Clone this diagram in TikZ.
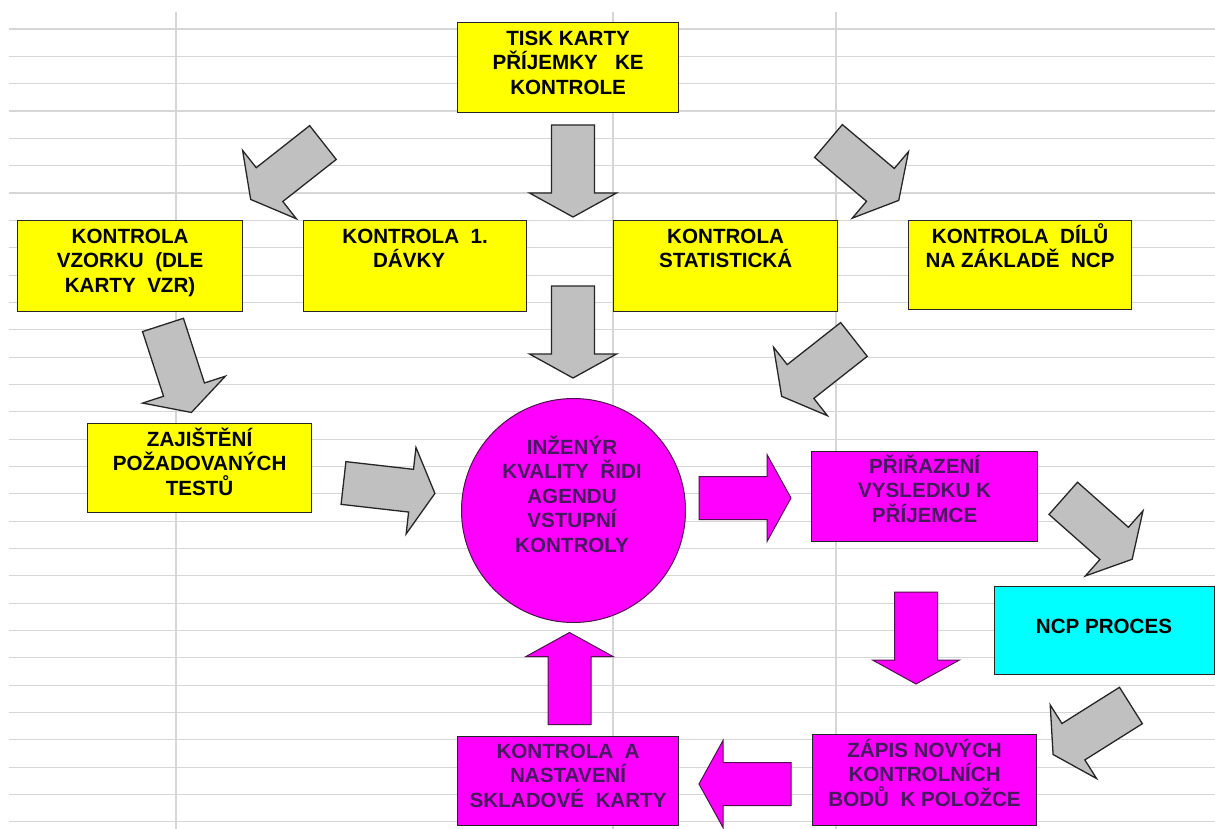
\documentclass[tikz,border=0pt]{standalone}
\usepackage{fontspec}
\setmainfont{Liberation Sans}
\definecolor{gridline}{HTML}{D6D6D6}
\definecolor{outline}{HTML}{262626}
\definecolor{arrowgray}{HTML}{C0C0C0}
\definecolor{boxyellow}{RGB}{255,255,0}
\definecolor{boxmagenta}{RGB}{255,0,255}
\definecolor{boxcyan}{RGB}{0,255,255}
\definecolor{mtext}{HTML}{46185F}
\definecolor{moutline}{HTML}{50104F}
% fixed height for the first line of a label
\newcommand\firstline{\rule{0pt}{20.6pt}}
% block arrow: centre x, centre y, direction angle, style
\newcommand\blockarrow[4]{%
  \begin{scope}[shift={(#1,#2)},rotate=#3]
    \draw[#4] (-46,-21.5) -- (22,-21.5) -- (22,-43.5) -- (46,0)
      -- (22,43.5) -- (22,21.5) -- (-46,21.5) -- cycle;
  \end{scope}}
\begin{document}
\begin{tikzpicture}[x=1pt,y=-1pt,
  grid/.style={draw=gridline,line width=1.1pt},
  box/.style={draw=outline,line width=1.2pt,inner sep=0pt,anchor=north west},
  ybox/.style={box,fill=boxyellow},
  mbox/.style={box,fill=boxmagenta},
  cbox/.style={box,fill=boxcyan},
  lbl/.style={inner sep=0pt,align=center,anchor=north,
    font=\bfseries\fontsize{20.6}{24.5}\selectfont},
  mlbl/.style={lbl,text=mtext},
  grayarrow/.style={fill=arrowgray,draw=outline,line width=1.3pt,line join=miter},
  magarrow/.style={fill=boxmagenta,draw=moutline,line width=1pt,line join=miter}
]
\useasboundingbox (0,0) rectangle (1215,829);
\fill[white] (0,0) rectangle (1215,829);

% spreadsheet grid
\foreach \k in {0,...,29}
  \draw[grid] (9,{29+27.34*\k}) -- (1215,{29+27.34*\k});
\foreach \x in {176,613,836}
  \draw[grid] (\x,12) -- (\x,829);

% boxes
\node[ybox,minimum width=221pt,minimum height=90pt] (tisk) at (457,22) {};
\node[ybox,minimum width=225pt,minimum height=91pt] (vzorek) at (17,220) {};
\node[ybox,minimum width=223pt,minimum height=91pt] (davka) at (303,220) {};
\node[ybox,minimum width=224pt,minimum height=91pt] (stat) at (613,220) {};
\node[ybox,minimum width=223pt,minimum height=89pt] (dily) at (908,220) {};
\node[ybox,minimum width=224pt,minimum height=89pt] (testy) at (87,423) {};
\node[mbox,minimum width=226pt,minimum height=90pt] (prirazeni) at (811,451) {};
\node[cbox,minimum width=220pt,minimum height=88pt] (ncp) at (994,586) {};
\node[mbox,minimum width=224pt,minimum height=91pt] (zapis) at (812,734) {};
\node[mbox,minimum width=221pt,minimum height=89pt] (nastaveni) at (457,736) {};
\node[circle,draw=moutline,line width=1pt,fill=boxmagenta,minimum size=224pt,inner sep=0pt]
  (inzenyr) at (573.5,510.5) {};

% texts
\node[lbl] (tiskT) at ([yshift=-2.4pt]tisk.north) {\firstline TISK KARTY\\PŘÍJEMKY~~ KE\\KONTROLE};
\node[lbl] (vzorekT) at ([yshift=-2.4pt]vzorek.north) {\firstline KONTROLA\\VZORKU~ (DLE\\KARTY~ VZR)};
\node[lbl] (davkaT) at ([yshift=-2.4pt]davka.north) {\firstline KONTROLA~ 1.\\DÁVKY\hspace*{12pt}};
\node[lbl] (statT) at ([yshift=-2.4pt]stat.north) {\firstline KONTROLA\\STATISTICKÁ};
\node[lbl] (dilyT) at ([yshift=-2.4pt]dily.north) {\firstline KONTROLA~ DÍLŮ\\NA ZÁKLADĚ~ NCP};
\node[lbl] (testyT) at ([yshift=-2.4pt]testy.north) {\firstline ZAJIŠTĚNÍ\\POŽADOVANÝCH\\TESTŮ};
\node[mlbl] (inzenyrT) at (572,433.4) {\firstline INŽENÝR\\KVALITY~ ŘIDI\\AGENDU\\VSTUPNÍ\\KONTROLY};
\node[mlbl] (prirazeniT) at ([yshift=-1.4pt]prirazeni.north) {\firstline PŘIŘAZENÍ\\VYSLEDKU K\\PŘÍJEMCE};
\node[lbl] (ncpT) at (1104,612.4) {\firstline NCP PROCES};
\node[mlbl] (zapisT) at ([yshift=-2.4pt]zapis.north) {\firstline ZÁPIS NOVÝCH\\KONTROLNÍCH\\BODŮ~ K POLOŽCE};
\node[mlbl] (nastaveniT) at ([yshift=-1.4pt]nastaveni.north) {\firstline KONTROLA~ A\\NASTAVENÍ\\SKLADOVÉ~ KARTY};

% grey block arrows
\blockarrow{286.8}{171}{-141.8}{grayarrow}
\blockarrow{573}{171}{-90}{grayarrow}
\blockarrow{863.6}{170.7}{-40.2}{grayarrow}
\blockarrow{177.2}{368.7}{-72}{grayarrow}
\blockarrow{573}{332}{-90}{grayarrow}
\blockarrow{817.8}{367.9}{-141.8}{grayarrow}
\blockarrow{389.2}{488.2}{-6.5}{grayarrow}
\blockarrow{1097.7}{528.8}{-41.5}{grayarrow}
\blockarrow{1092}{730}{-147.8}{grayarrow}

% magenta block arrows
\blockarrow{745}{498}{0}{magarrow}
\blockarrow{916}{638}{-90}{magarrow}
\blockarrow{569.5}{678.5}{90}{magarrow}
\blockarrow{745}{784}{180}{magarrow}
\end{tikzpicture}
\end{document}
